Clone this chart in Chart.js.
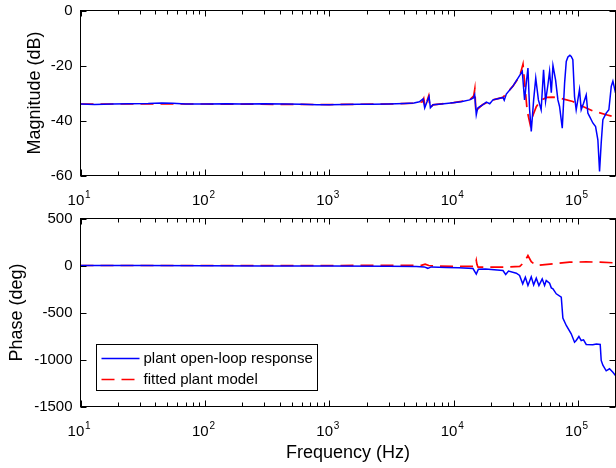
<!DOCTYPE html>
<html>
<head>
<meta charset="utf-8">
<script src="https://cdn.jsdelivr.net/npm/chart.js@4.4.1/dist/chart.umd.min.js"></script>
<style>
  body { margin: 0; background: #fff; }
  canvas { position: absolute; left: 0; }
  #magChart { top: 0; }
  #phaseChart { top: 200px; }
</style>
</head>
<body>
<canvas id="magChart" width="616" height="215"></canvas>
<canvas id="phaseChart" width="616" height="268"></canvas>
<script>
const FONT = '"Liberation Sans", Arial, Helvetica, sans-serif';
Chart.defaults.font.family = FONT;
Chart.defaults.color = '#000';

// axis ticks
const freqTicks = [10, 100, 1000, 10000, 100000];
const freqExp = ['1', '2', '3', '4', '5'];
const magTicks = [-60, -40, -20, 0];
const phaseTicks = [-1500, -1000, -500, 0, 500];

const legendLabels = ['plant open-loop response', 'fitted plant model'];

// measured magnitude (Hz, dB)
const magFreq = [10, 13, 18, 25, 35, 45, 55, 70, 100, 150, 200, 300, 450, 600, 800, 1000, 1300, 1700, 2200, 3000,
  4000, 4800, 5300, 5680, 5850, 6340, 6500, 6830, 8000, 9500, 11500, 13450, 14400, 14760, 15200, 15600, 16170,
  17000, 18310, 19500, 20700, 23000, 24900, 25500, 26500, 29950, 33000, 35600, 37150, 38350, 39550, 40800, 42050,
  43950, 45700, 48000, 50500, 52800, 54800, 57250, 59050, 60950, 62850, 65950, 68850, 71000, 74650, 77950, 80400,
  82900, 86000, 88100, 90800, 93700, 96600, 99600, 102700, 106000, 110700, 116300, 119900, 123700, 131500, 138300,
  144300, 148900, 153500, 158300, 168400, 176900, 184900, 190600, 200000];
const magMeas = [-34.0, -34.2, -34.0, -33.9, -33.8, -33.6, -33.7, -34.0, -34.0, -33.9, -34.0, -33.9, -34.0, -34.1, -34.3, -34.3, -34.2, -34.1, -34.1, -34.0,
  -33.8, -33.6, -33.2, -32.1, -35.4, -31.3, -35.4, -34.3, -34.0, -33.6, -33.2, -32.5, -31.8, -30.6, -37.9, -35.5, -35.0,
  -34.4, -33.3, -33.9, -32.5, -32.0, -31.6, -32.6, -30.4, -27.5, -24.5, -22.1, -32.5, -26.4, -20.9, -36.1, -44.0,
  -32.5, -24.6, -32.5, -36.1, -21.6, -33.0, -27.0, -22.1, -29.9, -20.0, -25.2, -32.5, -34.9, -42.8, -26.4, -18.5,
  -16.9, -16.3, -16.7, -17.9, -31.3, -36.1, -32.5, -28.8, -36.1, -33.7, -30.7, -37.3, -38.5, -40.9, -42.2,
  -47.0, -58.5, -48.2, -39.7, -37.3, -36.1, -27.6, -25.7, -29.9];

// fitted magnitude (Hz, dB)
const fitMagFreq = [10, 100, 1000, 3000, 5000, 5600, 5750, 5900, 6300, 6450, 6800, 10000, 13450, 14500, 14800, 15100,
  15500, 17000, 20700, 24900, 29950, 33880, 36100, 37500, 39000, 41300, 43500, 46150, 50000, 56000, 63000, 73000,
  90800, 109400, 131500, 168400, 200000];
const fitMag = [-34.0, -34.0, -34.2, -34.0, -33.7, -33.2, -32.0, -35.0, -31.0, -35.5, -34.3, -33.5, -32.5, -31.0, -28.5, -37.5,
  -36.0, -34.3, -32.5, -31.6, -27.5, -24.0, -19.5, -28.0, -36.5, -41.6, -38.0, -35.0, -32.7, -31.6, -31.5, -32.0,
  -33.1, -34.9, -36.5, -37.9, -38.8];

// measured phase (Hz, deg)
const phaseFreq = [10, 30, 100, 300, 1000, 3000, 5000, 5800, 6200, 6600, 8730, 11000, 14300, 15200, 15800, 18000,
  24900, 26200, 27600, 31900, 33880, 35900, 37700, 39550, 42050, 43950, 46150, 48450, 51500, 53800, 55500, 59050,
  60950, 62850, 66800, 73300, 75500, 80400, 88100, 93700, 96600, 101600, 106000, 110700, 116300, 131500, 140300,
  150700, 153500, 158300, 168400, 179000, 190600, 200000];
const phaseMeas = [0, 0, -2, -4, -6, -7, -10, -15, -30, -15, -21, -25, -32, -92, -40, -38,
  -53, -96, -60, -82, -106, -195, -124, -213, -120, -206, -135, -213, -142, -213, -160, -188,
  -238, -248, -301, -337, -560, -638, -727, -816, -798, -755, -798, -791, -840, -844, -835,
  -840, -1010, -1060, -1120, -1099, -1135, -1170];

// fitted phase (Hz, deg)
const fitPhaseFreq = [10, 1000, 5500, 5900, 6300, 7000, 10000, 14300, 14900, 15200, 15400, 15700, 20000, 28000, 34000,
  37150, 39550, 42050, 46150, 62850, 85500, 116300, 150000, 200000];
const fitPhase = [0, 0, 2, 15, 0, -5, -8, -10, -5, 53, 10, -18, -18, -16, -10,
  40, 106, 40, 0, 18, 35, 39, 35, 28];

const pts = (xs, ys) => xs.map((x, i) => ({ x: x, y: ys[i] }));

// box with inward ticks and decade exponents, like the original figure
const boxTicks = {
  id: 'boxTicks',
  afterDraw(chart) {
    const { ctx, chartArea: a, scales: { x, y } } = chart;
    ctx.save();
    ctx.strokeStyle = '#000';
    ctx.lineWidth = 1;
    ctx.beginPath();
    for (let e = 1; e <= 5; e++) {
      for (let m = 1; m <= 9; m++) {
        const v = m * Math.pow(10, e);
        if (v > x.max) break;
        const px = Math.round(x.getPixelForValue(v)) + 0.5;
        const len = m === 1 ? 6 : 4;
        ctx.moveTo(px, a.bottom); ctx.lineTo(px, a.bottom - len);
        ctx.moveTo(px, a.top); ctx.lineTo(px, a.top + len);
      }
    }
    y.ticks.forEach(t => {
      const py = Math.round(y.getPixelForValue(t.value)) + 0.5;
      ctx.moveTo(a.left, py); ctx.lineTo(a.left + 6, py);
      ctx.moveTo(a.right, py); ctx.lineTo(a.right - 6, py);
    });
    ctx.stroke();
    ctx.strokeRect(a.left, a.top, a.right - a.left, a.bottom - a.top);
    // exponents of the 10^n tick labels
    ctx.fillStyle = '#000';
    ctx.font = '10px ' + FONT;
    ctx.textAlign = 'left';
    ctx.textBaseline = 'alphabetic';
    freqTicks.forEach((v, i) => {
      ctx.fillText(freqExp[i], x.getPixelForValue(v) + 4.5, a.bottom + 22);
    });
    ctx.restore();
  }
};

// legend drawn as a boxed panel inside the plot
const boxLegend = {
  id: 'boxLegend',
  afterDraw(chart) {
    const { ctx, chartArea: a } = chart;
    const w = 221, h = 46;
    const x0 = a.left + 16, y0 = a.bottom - 16 - h;
    ctx.save();
    ctx.fillStyle = '#fff';
    ctx.fillRect(x0, y0, w, h);
    ctx.strokeStyle = '#000';
    ctx.lineWidth = 1;
    ctx.strokeRect(x0, y0, w, h);
    ctx.font = '15px ' + FONT;
    ctx.textBaseline = 'middle';
    chart.data.datasets.forEach((ds, i) => {
      const cy = Math.round(y0 + 13 + i * 21) + 0.5;
      ctx.strokeStyle = ds.borderColor;
      ctx.lineWidth = ds.borderWidth;
      ctx.setLineDash(ds.borderDash || []);
      ctx.beginPath();
      ctx.moveTo(x0 + 5, cy);
      ctx.lineTo(x0 + 43, cy);
      ctx.stroke();
      ctx.setLineDash([]);
      ctx.fillStyle = '#000';
      ctx.fillText(ds.label, x0 + 47, cy);
    });
    ctx.restore();
  }
};

function xScale(height, title) {
  return {
    type: 'logarithmic',
    min: 10,
    max: 200000,
    afterBuildTicks: s => { s.ticks = freqTicks.map(v => ({ value: v })); },
    afterFit: s => { s.height = height; s.paddingLeft = 0; s.paddingRight = 0; },
    grid: { display: false, drawTicks: false },
    border: { display: false },
    ticks: {
      font: { size: 15 },
      padding: 16.5,
      labelOffset: -4.6,
      maxRotation: 0,
      autoSkip: false,
      callback: () => '10'
    },
    title: title
  };
}

function yScale(min, max, ticks, title, titlePad) {
  return {
    min: min,
    max: max,
    afterBuildTicks: s => { s.ticks = ticks.map(v => ({ value: v })); },
    afterFit: s => { s.width = 80.5; s.paddingTop = 0; s.paddingBottom = 0; },
    grid: { display: false, drawTicks: false },
    border: { display: false },
    ticks: { font: { size: 15 }, padding: 8, callback: v => String(v) },
    title: { display: true, text: title, font: { size: 18 }, padding: { top: titlePad, bottom: 0 } }
  };
}

const lineStyle = [
  { borderColor: '#0000ff', borderWidth: 1.5 },
  { borderColor: '#ff0000', borderWidth: 1.7, borderDash: [13, 7] }
];

// Magnitude Chart
const magCtx = document.getElementById('magChart').getContext('2d');
const magChart = new Chart(magCtx, {
  type: 'line',
  data: {
    datasets: [
      Object.assign({ label: legendLabels[0], data: pts(magFreq, magMeas) }, lineStyle[0]),
      Object.assign({ label: legendLabels[1], data: pts(fitMagFreq, fitMag) }, lineStyle[1])
    ]
  },
  options: {
    responsive: false,
    animation: false,
    layout: { padding: { top: 10.5, right: 0.5, left: 0, bottom: 0 } },
    elements: { point: { radius: 0 }, line: { tension: 0 } },
    plugins: { legend: { display: false }, tooltip: { enabled: false } },
    scales: {
      x: xScale(39.5, { display: false }),
      y: yScale(-60, 0, magTicks, 'Magnitude (dB)', 24)
    }
  },
  plugins: [boxTicks]
});

// Phase Chart (its canvas overlaps the one above, both are transparent)
const phaseCtx = document.getElementById('phaseChart').getContext('2d');
const phaseChart = new Chart(phaseCtx, {
  type: 'line',
  data: {
    datasets: [
      Object.assign({ label: legendLabels[0], data: pts(phaseFreq, phaseMeas) }, lineStyle[0]),
      Object.assign({ label: legendLabels[1], data: pts(fitPhaseFreq, fitPhase) }, lineStyle[1])
    ]
  },
  options: {
    responsive: false,
    animation: false,
    layout: { padding: { top: 18.5, right: 0.5, left: 0, bottom: 0 } },
    elements: { point: { radius: 0 }, line: { tension: 0 } },
    plugins: { legend: { display: false }, tooltip: { enabled: false } },
    scales: {
      x: xScale(61.5, { display: true, text: 'Frequency (Hz)', font: { size: 18 }, padding: { top: 0, bottom: 4 } }),
      y: yScale(-1500, 500, phaseTicks, 'Phase (deg)', 6)
    }
  },
  plugins: [boxTicks, boxLegend]
});
</script>
</body>
</html>
